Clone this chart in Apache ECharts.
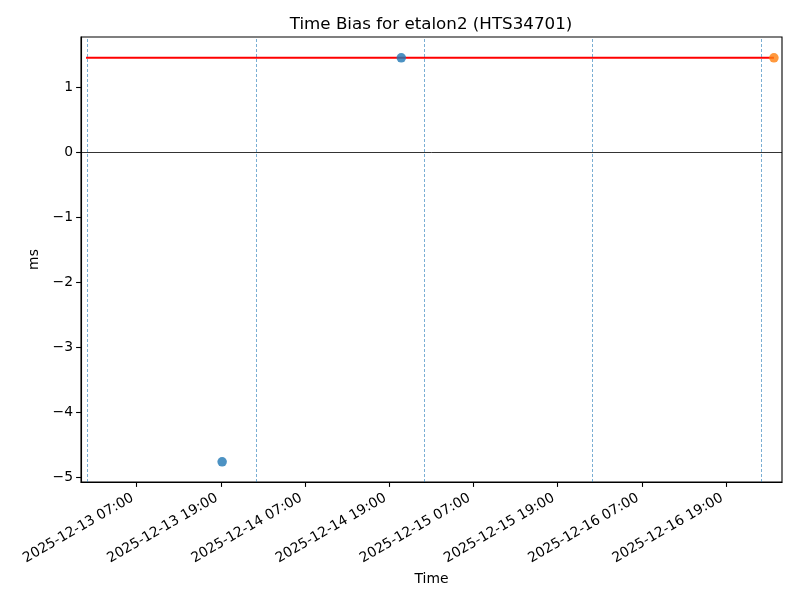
<!DOCTYPE html>
<html>
<head>
<meta charset="utf-8">
<script src="https://cdn.jsdelivr.net/npm/echarts@6/dist/echarts.min.js"></script>
<style>html,body{margin:0;padding:0;background:#fff}#c{width:800px;height:600px}</style>
</head>
<body>
<div id="c"></div>
<script>
// ---- data (times in UTC) ----
const blueTimes = ['2025-12-13 19:11', '2025-12-14 20:43'];
const blueValues = [-4.76, 1.45];
const orangeTimes = ['2025-12-17 01:50'];
const orangeValues = [1.45];
const refLineTimes = ['2025-12-12 23:47', '2025-12-17 01:50'];
const refLineValues = [1.45, 1.45];
const dayLines = ['2025-12-13 00:00', '2025-12-14 00:00', '2025-12-15 00:00', '2025-12-16 00:00', '2025-12-17 00:00'];
const xTickLabels = ['2025-12-13 07:00', '2025-12-13 19:00', '2025-12-14 07:00', '2025-12-14 19:00',
                     '2025-12-15 07:00', '2025-12-15 19:00', '2025-12-16 07:00', '2025-12-16 19:00'];
const yTicks = [-5, -4, -3, -2, -1, 0, 1];
const xRange = ['2025-12-12 23:04', '2025-12-17 02:59'];
const yRange = [-5.07, 1.77];

function t(s) {
  const [d, h] = s.split(' ');
  const [Y, M, D] = d.split('-').map(Number);
  const [hh, mm] = h.split(':').map(Number);
  return Date.UTC(Y, M - 1, D, hh, mm);
}
function p2(n) { return (n < 10 ? '0' : '') + n; }
function fmt(ms) {
  const d = new Date(ms);
  return d.getUTCFullYear() + '-' + p2(d.getUTCMonth() + 1) + '-' + p2(d.getUTCDate()) + ' ' +
         p2(d.getUTCHours()) + ':' + p2(d.getUTCMinutes());
}
const zip = (ts, vs) => ts.map((s, i) => [t(s), vs[i]]);

const font = 'DejaVu Sans';
const chart = echarts.init(document.getElementById('c'), null, {renderer: 'canvas'});
chart.setOption({
  animation: false,
  backgroundColor: '#fff',
  title: {
    text: 'Time Bias for etalon2 (HTS34701)',
    left: 431, top: 16, textAlign: 'center', padding: 0,
    textStyle: {fontFamily: font, fontSize: 16.7, fontWeight: 'normal', color: '#000'}
  },
  grid: {left: 81, right: 18, top: 37, bottom: 118, show: true, borderColor: '#000', borderWidth: 1.1, containLabel: false},
  xAxis: {
    type: 'value',
    min: t(xRange[0]), max: t(xRange[1]),
    name: 'Time', nameLocation: 'middle', nameGap: 89,
    nameTextStyle: {fontFamily: font, fontSize: 13.9, color: '#000'},
    axisLine: {show: true, onZero: false, lineStyle: {color: '#000', width: 1.1}},
    axisTick: {show: true, length: 4.9, lineStyle: {color: '#000', width: 1.1}, customValues: xTickLabels.map(t)},
    axisLabel: {
      show: true, rotate: 30, margin: 12.7, padding: [0, 4.6, 0, 0], customValues: xTickLabels.map(t),
      fontFamily: font, fontSize: 13.9, color: '#000',
      formatter: v => fmt(v)
    },
    splitLine: {show: false}
  },
  yAxis: {
    type: 'value',
    min: yRange[0], max: yRange[1],
    name: 'ms', nameLocation: 'middle', nameGap: 32.5, nameRotate: 90,
    nameTextStyle: {fontFamily: font, fontSize: 13.9, color: '#000'},
    axisLine: {show: true, onZero: false, lineStyle: {color: '#000', width: 1.1}},
    axisTick: {show: true, length: 4.9, lineStyle: {color: '#000', width: 1.1}, customValues: yTicks},
    axisLabel: {
      show: true, margin: 8, customValues: yTicks,
      fontFamily: font, fontSize: 13.9, color: '#000',
      formatter: v => String(v).replace('-', '\u2212')
    },
    splitLine: {show: false}
  },
  series: [
    {
      type: 'line', data: zip(refLineTimes, refLineValues), symbol: 'none', z: 3,
      lineStyle: {color: '#ff0000', width: 2.1},
      markLine: {
        silent: true, symbol: 'none', label: {show: false}, animation: false,
        data: dayLines.map(s => ({xAxis: t(s), lineStyle: {color: '#1f77b4', type: [3, 2], width: 0.7, opacity: 0.85}}))
          .concat([{yAxis: 0, lineStyle: {color: '#000', type: 'solid', width: 0.8}}])
      }
    },
    {
      type: 'scatter', data: zip(blueTimes, blueValues), symbolSize: 9.5, z: 4,
      itemStyle: {color: '#1f77b4'}
    },
    {
      type: 'scatter', data: zip(orangeTimes, orangeValues), symbolSize: 9.5, z: 4,
      itemStyle: {color: '#ff7f0e'}
    }
  ]
});
</script>
</body>
</html>
